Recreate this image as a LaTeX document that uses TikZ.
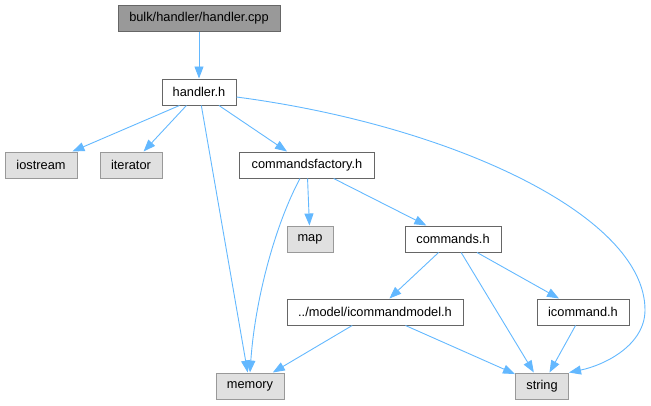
\documentclass[tikz,border=0pt]{standalone}
\usepackage{fontspec}
\setmainfont{Liberation Sans}
\usetikzlibrary{arrows.meta}
\definecolor{edgec}{HTML}{63B8FF}
\definecolor{darkfill}{HTML}{999999}
\definecolor{darkbord}{HTML}{666666}
\definecolor{sysfill}{HTML}{E0E0E0}
\definecolor{sysbord}{HTML}{999999}
\begin{document}
\begin{tikzpicture}[x=1pt,y=-1pt,
  box/.style={draw=darkbord,fill=white,line width=1pt,inner sep=0pt,minimum height=26pt,font=\fontsize{12.8}{15}\selectfont},
  rootbox/.style={box,fill=darkfill},
  sysbox/.style={box,draw=sysbord,fill=sysfill},
  edge/.style={draw=edgec,line width=0.9pt,-{Triangle[length=12pt,width=9pt]}}]
\useasboundingbox (0,0) rectangle (651,405);
\node[rootbox,minimum width=162pt] (cpp) at (199,18) {bulk/handler/handler.cpp};
\node[box,minimum width=74pt] (hh) at (199,92) {handler.h};
\node[sysbox,minimum width=72pt] (ios) at (41,165) {iostream};
\node[sysbox,minimum width=62pt] (it) at (131,165) {iterator};
\node[box,minimum width=135pt] (cf) at (307,165) {commandsfactory.h};
\node[sysbox,minimum width=46pt] (map) at (310,239) {map};
\node[box,minimum width=96pt] (cmd) at (453,239) {commands.h};
\node[box,minimum width=176pt] (icm) at (375,312) {../model/icommandmodel.h};
\node[box,minimum width=92pt] (ic) at (583,312) {icommand.h};
\node[sysbox,minimum width=53pt] (str) at (542,386) {string};
\node[sysbox,minimum width=68pt] (mem) at (250,386) {memory};
\draw[edge] (cpp) -- (hh);
\draw[edge] (hh.south west) ++(18,0) coordinate (a1) (a1) -- (ios);
\draw[edge] (hh) -- (it);
\draw[edge] (hh) -- (cf);
\draw[edge] (hh) -- (mem);
\draw[edge] (hh.east) ++(0,5) coordinate (a2) (a2) .. controls (450,125) and (645,215) .. (645,310) .. controls (645,345) and (605,365) .. (str.north east);
\draw[edge] (cf.south) ++(-7,0) coordinate (a3) (a3) .. controls (275,225) and (255,300) .. (mem.north);
\draw[edge] (cf) -- (map);
\draw[edge] (cf) -- (cmd);
\draw[edge] (cmd) -- (icm);
\draw[edge] (cmd) -- (str);
\draw[edge] (cmd) -- (ic);
\draw[edge] (icm) -- (mem);
\draw[edge] (icm) -- (str);
\draw[edge] (ic) -- (str);
\end{tikzpicture}
\end{document}
